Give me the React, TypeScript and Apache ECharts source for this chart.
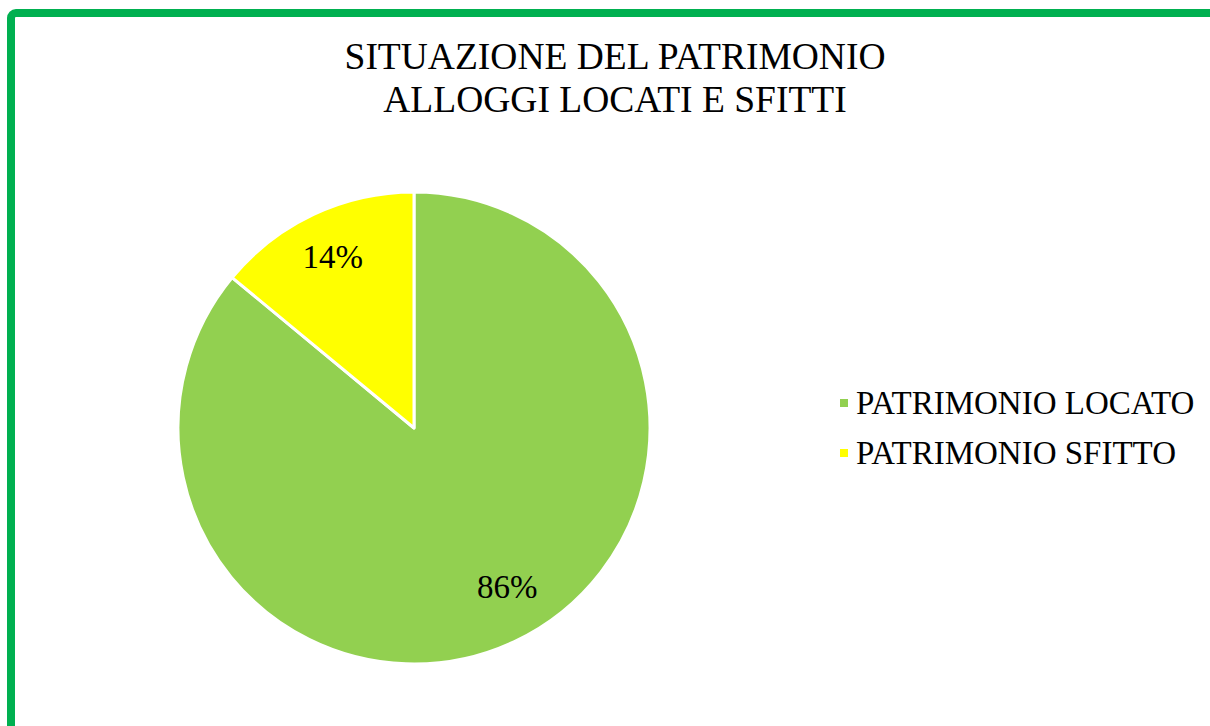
import React, { useEffect, useRef } from "react";
import * as echarts from "echarts";

const titleLines = ["SITUAZIONE DEL PATRIMONIO", "ALLOGGI LOCATI E SFITTI"];
const categories = ["PATRIMONIO LOCATO", "PATRIMONIO SFITTO"];
const values = [86, 14];
const colors = ["#92D050", "#FFFF00"];

export default function App() {
  const ref = useRef<HTMLDivElement>(null);
  useEffect(() => {
    const chart = echarts.init(ref.current!, null, { renderer: "svg" });
    const font = "Liberation Serif";
    const data = categories.map((name, i) => ({
      name,
      value: values[i],
      itemStyle: { color: colors[i] },
    }));
    chart.setOption({
      animation: false,
      backgroundColor: "#ffffff",
      textStyle: { fontFamily: font },
      title: {
        text: titleLines.join("\n"),
        left: 610,
        textAlign: "center",
        top: 30,
        textStyle: {
          fontFamily: font,
          fontWeight: "normal",
          fontSize: 37.5,
          lineHeight: 43,
          color: "#000000",
        },
      },
      legend: {
        orient: "vertical",
        left: 833,
        top: 381,
        itemWidth: 10,
        itemHeight: 10,
        itemGap: 16,
        icon: "rect",
        data: categories,
        textStyle: {
          fontFamily: font,
          fontSize: 33,
          lineHeight: 34,
          color: "#000000",
          padding: [0, 0, 0, 2],
        },
      },
      graphic: [
        {
          type: "rect",
          shape: { x: 11, y: 13, width: 1400, height: 900, r: 5 },
          style: { fill: "none", stroke: "#00B050", lineWidth: 8 },
          z: 100,
        },
      ],
      series: [
        {
          type: "pie",
          center: [414, 428],
          radius: [0, 236],
          startAngle: 90,
          clockwise: true,
          data,
          label: { show: false },
          labelLine: { show: false },
          itemStyle: { borderColor: "#ffffff", borderWidth: 3 },
          emphasis: { disabled: true },
          silent: true,
        },
        {
          type: "pie",
          center: [414, 428],
          radius: [0, 376],
          startAngle: 90,
          clockwise: true,
          data: categories.map((name, i) => ({ name, value: values[i] })),
          itemStyle: { color: "transparent", borderWidth: 0 },
          label: {
            show: true,
            position: "inside",
            formatter: (p: any) => `${p.value}%`,
            fontFamily: font,
            fontSize: 33,
            color: "#000000",
          },
          labelLayout: (p: any) => (p.dataIndex === 0 ? { dx: 12, dy: -14 } : { dx: 0, dy: 2 }),
          labelLine: { show: false },
          emphasis: { disabled: true },
          silent: true,
          z: 3,
        },
      ],
    });
    return () => chart.dispose();
  }, []);
  return (
    <div
      ref={ref}
      style={{ position: "fixed", left: 0, top: 0, width: 1210, height: 726 }}
    />
  );
}
